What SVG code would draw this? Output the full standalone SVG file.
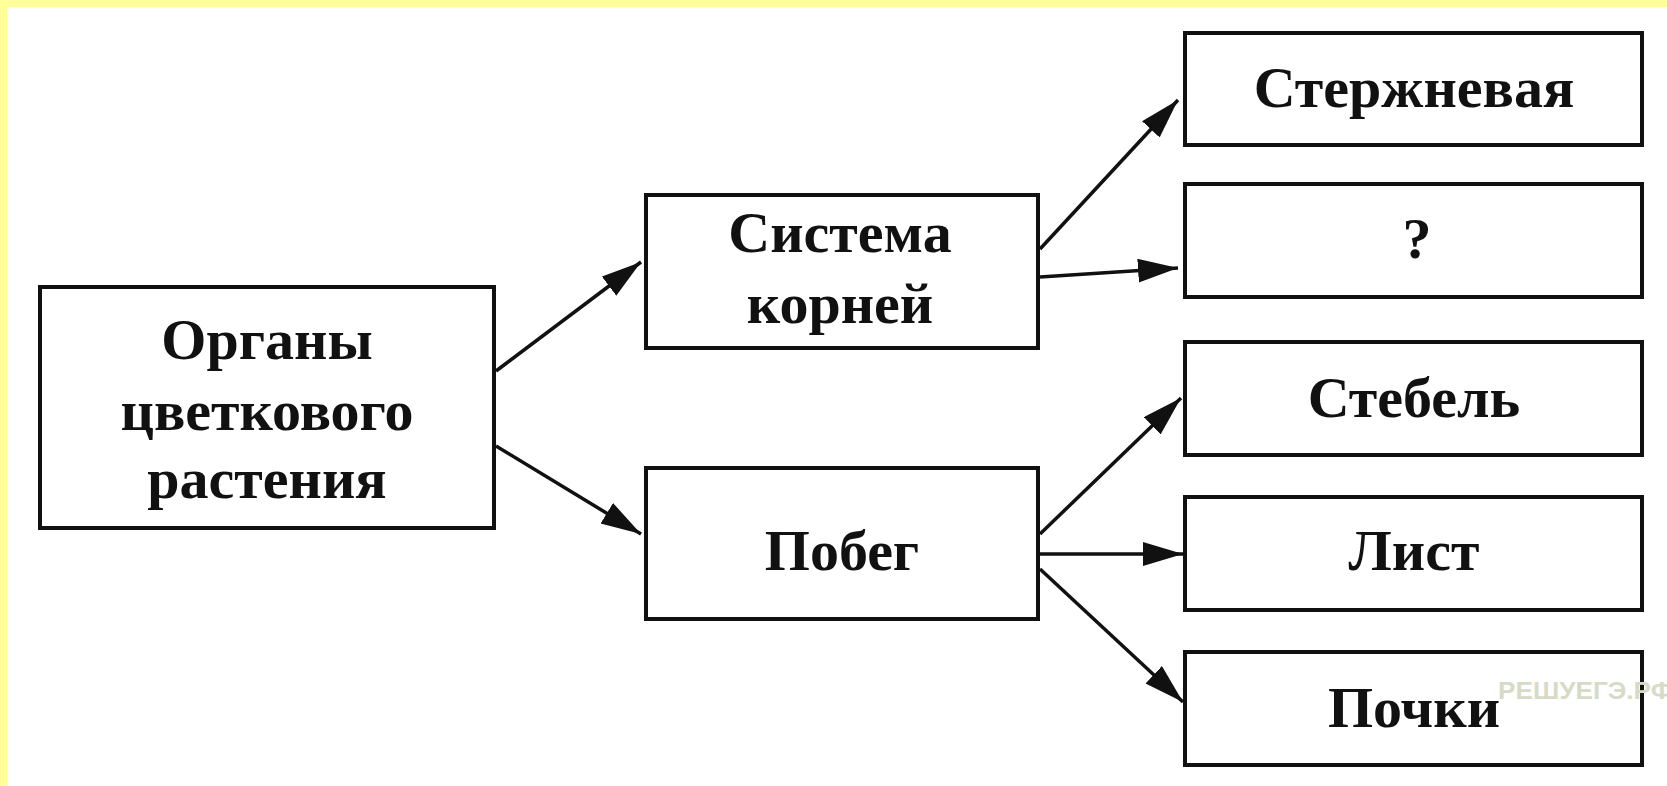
<svg xmlns="http://www.w3.org/2000/svg" width="1667" height="786" viewBox="0 0 1667 786">
<defs>
<style>
.box{fill:#fff;stroke:#111;stroke-width:4}
.t{font-family:"Liberation Serif","DejaVu Serif",serif;font-weight:bold;font-size:58px;fill:#111;text-anchor:middle}
.c{stroke:#111;stroke-width:3.5;fill:none;marker-end:url(#ah)}
.wm{font-family:"Liberation Sans","DejaVu Sans",sans-serif;font-weight:bold;font-size:24px;fill:#d6dbc8}
</style>
<marker id="ah" markerUnits="userSpaceOnUse" markerWidth="44" markerHeight="28" refX="40" refY="12" orient="auto">
<path d="M0,0 L40,12 L0,24 Z" fill="#111"/>
</marker>
</defs>
<rect x="0" y="0" width="1667" height="786" fill="#fff"/>
<rect x="0" y="0" width="1667" height="7" fill="#ffff99"/>
<rect x="0" y="0" width="7" height="786" fill="#ffff99"/>
<g id="connectors">
<line class="c" x1="496" y1="371" x2="641" y2="262"/>
<line class="c" x1="496" y1="446" x2="641" y2="534"/>
<line class="c" x1="1040" y1="249" x2="1178" y2="100"/>
<line class="c" x1="1040" y1="277" x2="1178" y2="268"/>
<line class="c" x1="1040" y1="534" x2="1181" y2="398"/>
<line class="c" x1="1040" y1="554" x2="1183" y2="554"/>
<line class="c" x1="1040" y1="569" x2="1183" y2="702"/>
</g>
<g id="organy">
<rect class="box" x="40" y="287" width="454" height="241"/>
<text class="t" x="267" y="359">Органы</text>
<text class="t" x="267" y="430">цветкового</text>
<text class="t" x="267" y="498">растения</text>
</g>
<g id="sistema">
<rect class="box" x="646" y="195" width="392" height="153"/>
<text class="t" x="840" y="252">Система</text>
<text class="t" x="840" y="323">корней</text>
</g>
<g id="pobeg">
<rect class="box" x="646" y="468" width="392" height="151"/>
<text class="t" x="842" y="570">Побег</text>
</g>
<g id="sterzhnevaya">
<rect class="box" x="1185" y="33" width="457" height="112"/>
<text class="t" x="1414" y="107">Стержневая</text>
</g>
<g id="question">
<rect class="box" x="1185" y="184" width="457" height="113"/>
<text class="t" x="1417" y="258">?</text>
</g>
<g id="stebel">
<rect class="box" x="1185" y="342" width="457" height="113"/>
<text class="t" x="1414" y="417">Стебель</text>
</g>
<g id="list">
<rect class="box" x="1185" y="497" width="457" height="113"/>
<text class="t" x="1414" y="570">Лист</text>
</g>
<g id="pochki">
<rect class="box" x="1185" y="652" width="457" height="113"/>
<text class="wm" x="1498" y="699" textLength="175" lengthAdjust="spacingAndGlyphs">РЕШУЕГЭ.РФ</text>
<text class="t" x="1414" y="727">Почки</text>
</g>
</svg>
